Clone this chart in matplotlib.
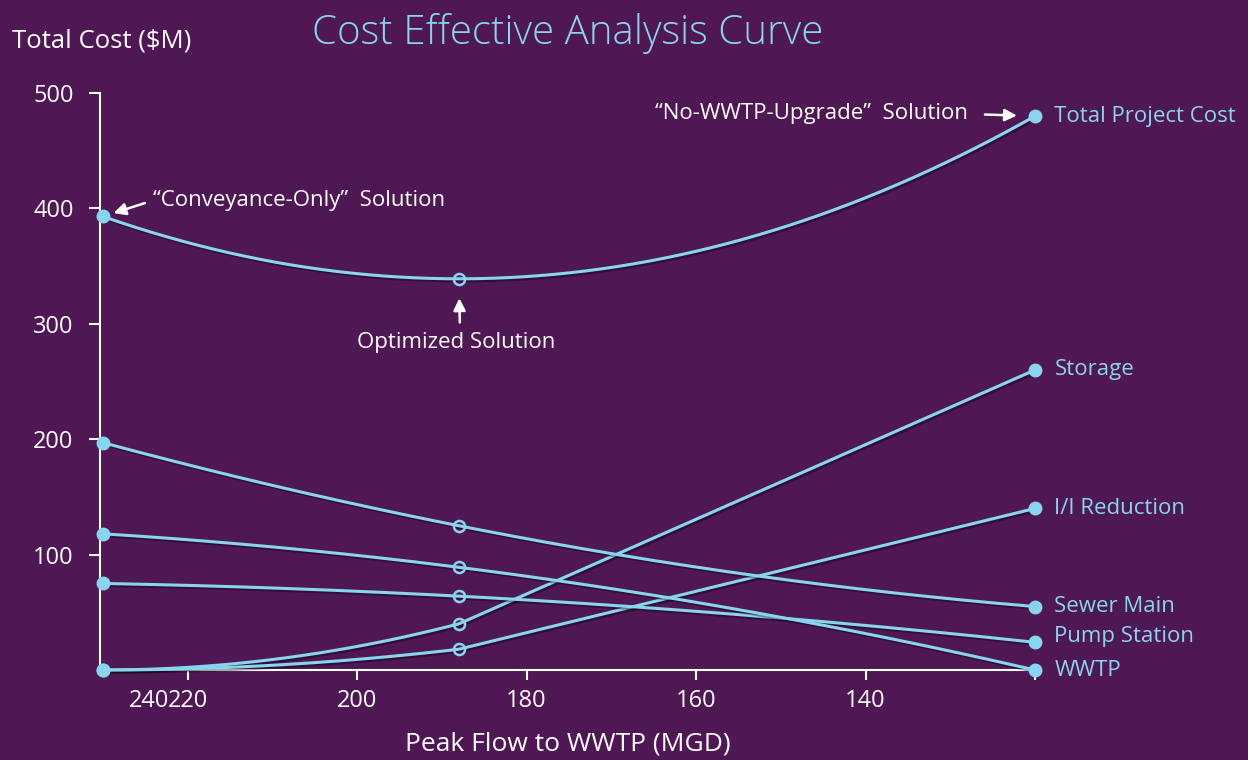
import numpy as np
import matplotlib.pyplot as plt
import matplotlib.patheffects as pe

plt.rcParams['font.family'] = ['Open Sans', 'DejaVu Sans']

# data (flow in MGD, cost in $M)
flow = [230, 188, 120]
total_cost = [393, 339, 480]
storage = [0, 40, 260]
ii_reduction = [0, 18, 140]
sewer_main = [197, 125, 55]
pump_station = [75, 64, 24]
wwtp = [118, 89, 0]

# name, values, label shift (pt), curve style
series = [
    ('Total Project Cost', total_cost, 0, 'smooth'),
    ('Storage', storage, 0, 'kinked'),
    ('I/I Reduction', ii_reduction, 0, 'kinked'),
    ('Sewer Main', sewer_main, 0, 'smooth'),
    ('Pump Station', pump_station, 4, 'smooth'),
    ('WWTP', wwtp, 0, 'smooth'),
]

x_ticks = [220, 200, 180, 160, 140, 120]
x_ticklabels = ['220', '200', '180', '160', '140', '']
y_ticks = [100, 200, 300, 400, 500]

bg = '#4f1753'
blue = '#88d5f0'
white = '#ffffff'


def curve(x, y, style):
    if style == 'smooth':
        # one smooth parabola through the three points
        xs = np.linspace(x[0], x[-1], 300)
        return xs, np.polyval(np.polyfit(x, y, 2), xs)
    # flat start bending up to the middle point, then straight
    xl = np.linspace(x[0], x[1], 150)
    yl = y[0] + (y[1] - y[0]) * ((xl - x[0]) / (x[1] - x[0])) ** 2
    return np.r_[xl, x[2]], np.r_[yl, y[2]]


fig = plt.figure(figsize=(12.48, 7.6), dpi=100, facecolor=bg)
ax = fig.add_axes([100 / 1248, 90 / 760, 935 / 1248, 577 / 760])
ax.set_facecolor(bg)

shadow = [pe.SimpleLineShadow(offset=(1.5, -1.5), shadow_color='black', alpha=0.35), pe.Normal()]

for name, vals, dy, style in series:
    cx, cy = curve(flow, vals, style)
    ax.plot(cx, cy, color=blue, lw=2.2, clip_on=False, path_effects=shadow, zorder=3)
    ax.plot([flow[0], flow[-1]], [vals[0], vals[-1]], 'o', color=blue, ms=9,
            clip_on=False, zorder=4)
    ax.plot(flow[1], vals[1], 'o', mfc='none', mec=blue, mew=1.8, ms=8,
            clip_on=False, zorder=4)
    ax.annotate(name, xy=(flow[-1], vals[-1]), xytext=(14, dy),
                textcoords='offset points', ha='left', va='center',
                color=blue, fontsize=16, annotation_clip=False)

ax.set_xlim(230.35, 120)
ax.set_ylim(0, 500)
ax.set_xticks(x_ticks)
ax.set_xticklabels(x_ticklabels)
ax.set_yticks(y_ticks)

for s in ['top', 'right']:
    ax.spines[s].set_visible(False)
for s in ['left', 'bottom']:
    ax.spines[s].set_color(white)
    ax.spines[s].set_linewidth(1.5)
ax.tick_params(axis='both', colors=white, width=1.5, length=8, labelsize=17,
               direction='out')
ax.tick_params(axis='x', length=7, pad=7)
ax.tick_params(axis='y', pad=11)

# the "240" label sits right next to "220"
ax.annotate('240', xy=(220, 0), xycoords=('data', 'axes fraction'),
            xytext=(-13.5, -14), textcoords='offset points', ha='right', va='top',
            color=white, fontsize=17, annotation_clip=False)

ax.set_xlabel('Peak Flow to WWTP (MGD)', color=white, fontsize=19, labelpad=13)
fig.text(12 / 1248, 1 - 41 / 760, 'Total Cost ($M)', color=white, fontsize=18.5,
         ha='left', va='center')
fig.text(568 / 1248, 1 - 34 / 760, 'Cost Effective Analysis Curve', color=blue,
         fontsize=29, fontweight='light', ha='center', va='center')

arrow = dict(arrowstyle='-|>', color=white, lw=1.8, mutation_scale=18)

ax.annotate('\u201cConveyance-Only\u201d  Solution', xy=(flow[0], total_cost[0]),
            xytext=(36, 11.5), textcoords='offset points', ha='left', va='center',
            color=white, fontsize=16, annotation_clip=False,
            arrowprops=dict(arrow, relpos=(0, 0.5), shrinkA=4, shrinkB=8))
ax.annotate('Optimized Solution', xy=(flow[1], total_cost[1]),
            xytext=(-2, -46), textcoords='offset points', ha='center', va='center',
            color=white, fontsize=16,
            arrowprops=dict(arrow, relpos=(0.52, 1), shrinkA=5, shrinkB=14))
ax.annotate('\u201cNo-WWTP-Upgrade\u201d  Solution', xy=(flow[-1], total_cost[-1]),
            xytext=(-48, 1.5), textcoords='offset points', ha='right', va='center',
            color=white, fontsize=16, annotation_clip=False,
            arrowprops=dict(arrow, relpos=(1, 0.5), shrinkA=10, shrinkB=13))

fig.savefig('out.png', dpi=100, facecolor=bg)
